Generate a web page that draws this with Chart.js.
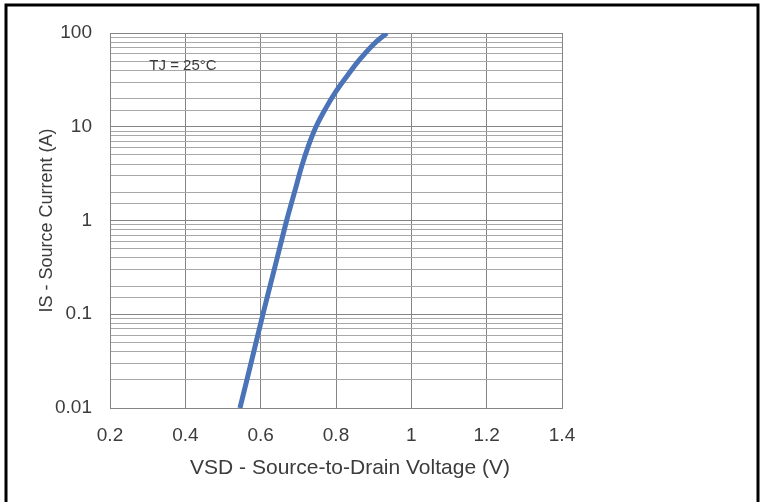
<!DOCTYPE html>
<html>
<head>
<meta charset="utf-8">
<script src="https://cdn.jsdelivr.net/npm/chart.js@4/dist/chart.umd.min.js"></script>
<style>
  html, body { margin: 0; padding: 0; background: #fff; }
  #chart { display: block; }
</style>
</head>
<body>
<canvas id="chart" width="763" height="502"></canvas>
<script>
// values
const vsdVolts = [0.545, 0.576, 0.606, 0.637, 0.669, 0.694, 0.709, 0.727, 0.747, 0.773, 0.8, 0.83, 0.862, 0.9, 0.935];
const sourceCurrent = [0.01, 0.032, 0.1, 0.31, 1, 2.3, 3.8, 6.3, 10, 15.8, 23.8, 35, 51.6, 76, 100];

const xTicks = [0.2, 0.4, 0.6, 0.8, 1, 1.2, 1.4];
const yDecades = [0.01, 0.1, 1, 10, 100];

const xTitle = 'VSD - Source-to-Drain Voltage (V)';
const yTitle = 'IS - Source Current (A)';
const tempLabel = 'TJ = 25°C';

const textColor = '#3c3c3c';
const fontFamily = '"Liberation Sans", Arial, sans-serif';

const isDecade = v => yDecades.some(d => Math.abs(d - v) / d < 1e-6);

// frame around the figure + free-standing texts
const decorations = {
  id: 'decorations',
  beforeDraw(chart) {
    const ctx = chart.ctx;
    ctx.save();
    ctx.strokeStyle = '#000';
    ctx.lineWidth = 3;
    ctx.beginPath();
    ctx.moveTo(6, 502);
    ctx.lineTo(6, 5);
    ctx.lineTo(758, 5);
    ctx.lineTo(758, 502);
    ctx.stroke();
    ctx.restore();
  },
  afterDraw(chart) {
    const ctx = chart.ctx;
    const area = chart.chartArea;
    ctx.save();
    ctx.fillStyle = textColor;
    ctx.textAlign = 'center';
    ctx.textBaseline = 'middle';
    ctx.font = '21px ' + fontFamily;
    ctx.fillText(xTitle, 350, 468);
    ctx.font = '15px ' + fontFamily;
    ctx.fillText(tempLabel, area.left + 73, 66);
    ctx.restore();
  }
};

new Chart(document.getElementById('chart').getContext('2d'), {
  type: 'line',
  data: {
    datasets: [{
      label: 'IS',
      data: vsdVolts.map((v, i) => ({ x: v, y: sourceCurrent[i] })),
      borderColor: '#4a73b8',
      borderWidth: 5,
      pointRadius: 0,
      fill: false,
      tension: 0.4
    }]
  },
  options: {
    responsive: false,
    animation: false,
    layout: { padding: { left: 0, top: 33, right: 201, bottom: 0 } },
    plugins: {
      legend: { display: false },
      tooltip: { enabled: false }
    },
    scales: {
      x: {
        type: 'linear',
        min: 0.2,
        max: 1.4,
        afterBuildTicks: scale => { scale.ticks = xTicks.map(v => ({ value: v })); },
        afterFit: scale => { scale.height = 94; },
        ticks: {
          color: textColor,
          font: { family: fontFamily, size: 19 },
          padding: 16,
          callback: v => String(Number(v.toFixed(1)))
        },
        grid: { color: '#858585', drawTicks: false },
        border: { color: '#858585' }
      },
      y: {
        type: 'logarithmic',
        min: 0.01,
        max: 100,
        afterFit: scale => { scale.width = 110; },
        ticks: {
          autoSkip: false,
          color: textColor,
          font: { family: fontFamily, size: 19 },
          padding: 18,
          callback: v => isDecade(v) ? String(v) : ''
        },
        grid: {
          drawTicks: false,
          color: c => isDecade(c.tick.value) ? '#858585' : '#a8a8a8'
        },
        border: { color: '#858585' },
        title: {
          display: true,
          text: yTitle,
          color: textColor,
          font: { family: fontFamily, size: 18 },
          padding: { top: 36, bottom: 0 }
        }
      }
    }
  },
  plugins: [decorations]
});
</script>
</body>
</html>
